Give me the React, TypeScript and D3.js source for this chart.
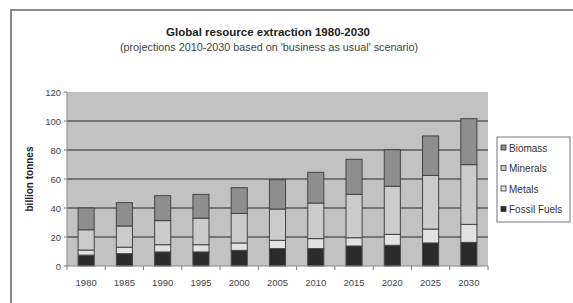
import React from "react";
import * as d3 from "d3";

const years = ["1980", "1985", "1990", "1995", "2000", "2005", "2010", "2015", "2020", "2025", "2030"];
const fossilFuels = [7.5, 8.5, 9.7, 9.7, 10.8, 12, 12, 13.8, 14.3, 15.9, 16.3];
const metals = [3.5, 4.5, 5, 5, 5.1, 5.7, 6.9, 5.7, 7.5, 9.6, 12.4];
const minerals = [14, 14.6, 16.6, 18.3, 20.4, 21.6, 24.5, 29.9, 33.2, 37, 41.2];
const biomass = [15, 16.1, 17.2, 16.4, 17.7, 20.2, 21.2, 24.2, 25.2, 27.2, 31.7];
const yTicks = [0, 20, 40, 60, 80, 100, 120];
const seriesNames = ["Fossil Fuels", "Metals", "Minerals", "Biomass"];
const seriesColors = ["#2b2b2b", "#e2e2e2", "#cbcbcb", "#8e8e8e"];

export default function App() {
  const W = 573, H = 303;
  const left = 67, right = 488, top = 92, bottom = 266;
  const x = d3.scaleBand().domain(years).range([left, right]).paddingInner(0.58).paddingOuter(0.29);
  const y = d3.scaleLinear().domain([0, 120]).range([bottom, top]);
  const rows = years.map((yr, i) => ({ year: yr, "Fossil Fuels": fossilFuels[i], Metals: metals[i], Minerals: minerals[i], Biomass: biomass[i] }));
  const stack = d3.stack<any>().keys(seriesNames)(rows);
  const font = "Arial, 'Liberation Sans', sans-serif";
  const step = (right - left) / years.length;
  const legendItems = [...seriesNames].reverse();
  return (
    <svg width={W} height={H} style={{ position: "absolute", left: 0, top: 0, background: "#fff" }} fontFamily={font}>
      <rect x={11} y={10} width={600} height={400} fill="#fff" stroke="#8a8a8a" strokeWidth={2} />
      <text x={268} y={36} textAnchor="middle" fontSize={11.5} fontWeight="bold" fill="#222">Global resource extraction 1980-2030</text>
      <text x={269} y={51} textAnchor="middle" fontSize={10.8} fill="#444">(projections 2010-2030 based on 'business as usual' scenario)</text>
      <rect x={left} y={top} width={right - left} height={bottom - top} fill="#c2c2c2" />
      {yTicks.filter(t => t > 0 && t < 120).map(t => (
        <line key={t} x1={left} x2={right} y1={y(t)} y2={y(t)} stroke="#5a5a5a" strokeWidth={1.6} />
      ))}
      {stack.map((s, si) => s.map((d, i) => (
        <rect key={si + "-" + i} x={x(years[i])} width={x.bandwidth()} y={y(d[1])} height={y(d[0]) - y(d[1])}
          fill={seriesColors[si]} stroke="#444" strokeWidth={1} />
      )))}
      <line x1={left} x2={left} y1={top} y2={bottom} stroke="#888" />
      <line x1={left} x2={right} y1={bottom} y2={bottom} stroke="#888" />
      {yTicks.map(t => (
        <g key={t}>
          <line x1={left - 3} x2={left} y1={y(t)} y2={y(t)} stroke="#777" />
          <text x={left - 6} y={y(t) + 3.5} textAnchor="end" fontSize={9.5} fill="#444">{t}</text>
        </g>
      ))}
      {d3.range(years.length + 1).map(i => (
        <line key={i} x1={left + i * step} x2={left + i * step} y1={bottom} y2={bottom + 4} stroke="#777" />
      ))}
      {years.map(yr => (
        <text key={yr} x={(x(yr) as number) + x.bandwidth() / 2} y={286} textAnchor="middle" fontSize={9.5} fill="#444">{yr}</text>
      ))}
      <text transform={`translate(33,${(top + bottom) / 2}) rotate(-90)`} textAnchor="middle" fontSize={10} fontWeight="bold" fill="#222">billion tonnes</text>
      <rect x={497} y={137} width={73} height={85} fill="#fff" stroke="#777" />
      {legendItems.map((name, i) => (
        <g key={name}>
          <rect x={501} y={145 + i * 20.5} width={5} height={5} fill={seriesColors[seriesNames.indexOf(name)]} stroke="#333" strokeWidth={0.8} />
          <text x={509} y={151.5 + i * 20.5} fontSize={10} fill="#333">{name}</text>
        </g>
      ))}
    </svg>
  );
}
